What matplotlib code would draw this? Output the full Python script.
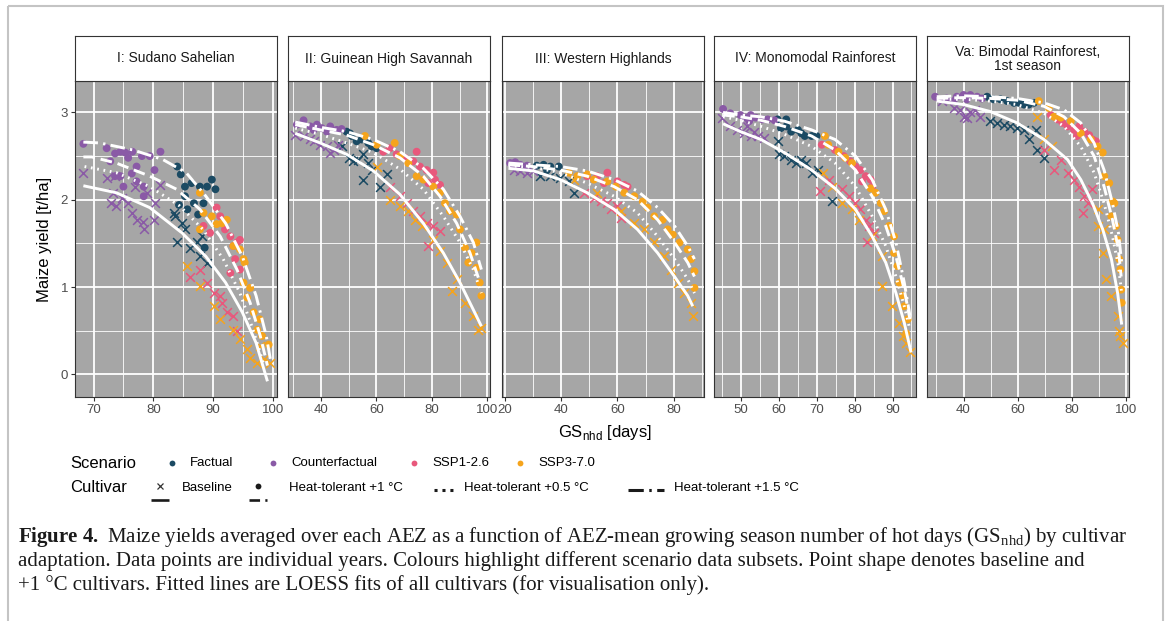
import matplotlib
matplotlib.use("Agg")
import matplotlib.pyplot as plt
from matplotlib.patches import Rectangle

# ---- data (x = GS_nhd [days], y = yield [t/ha]) ----
# panel I: Sudano Sahelian
p1_fact_dot = [(84.0, 2.38), (84.6, 2.29), (85.3, 2.15), (86.4, 2.19), (87.8, 2.15), (89.0, 2.15),
               (89.8, 2.23), (90.4, 2.12), (88.4, 1.96), (86.8, 1.96), (84.3, 1.94), (85.7, 1.89),
               (87.5, 1.83), (85.3, 2.04), (88.6, 1.45)]
p1_fact_x = [(83.7, 1.81), (84.0, 1.51), (84.8, 1.73), (85.3, 1.66), (86.2, 1.45), (87.3, 1.51),
             (87.8, 1.35), (89.0, 1.28), (83.4, 1.85), (88.1, 1.58)]
p1_cf_dot = [(68.3, 2.64), (72.2, 2.59), (72.8, 2.44), (73.6, 2.53), (74.5, 2.55), (75.3, 2.54),
             (76.5, 2.55), (75.8, 2.48), (77.2, 2.38), (78.1, 2.50), (79.4, 2.50), (81.2, 2.55),
             (80.2, 2.34), (73.6, 2.27), (74.5, 2.27), (76.4, 2.30), (77.2, 2.21), (78.4, 2.15),
             (78.4, 2.04), (75.0, 2.15)]
p1_cf_x = [(68.3, 2.31), (72.2, 2.25), (73.3, 2.08), (73.0, 1.96), (73.8, 1.93), (74.7, 2.02),
           (75.8, 1.96), (76.4, 1.85), (76.9, 2.15), (77.2, 1.77), (78.2, 1.75), (78.4, 1.66),
           (79.0, 2.08), (80.3, 1.96), (80.2, 1.77), (81.2, 2.17), (73.6, 2.27)]
p1_ssp126_dot = [(88.4, 1.70), (89.5, 1.62), (90.6, 1.91), (91.2, 1.81), (92.0, 1.66), (92.9, 1.58),
                 (93.4, 1.47), (94.0, 1.51), (93.7, 1.32), (94.5, 1.54), (92.9, 1.16), (94.5, 1.20)]
p1_ssp126_x = [(86.2, 1.12), (89.0, 1.05), (90.1, 0.93), (91.2, 0.90), (91.5, 0.82), (92.3, 0.71),
               (93.4, 0.67), (94.0, 0.50), (87.8, 1.20)]
p1_ssp370_dot = [(87.8, 2.08), (88.4, 1.85), (89.8, 1.81), (90.6, 1.72), (91.5, 1.73), (92.3, 1.77),
                 (93.4, 1.47), (94.5, 1.43), (95.1, 1.32), (95.3, 1.28), (95.1, 1.05), (96.2, 0.99),
                 (96.8, 0.71), (97.4, 0.51), (98.2, 0.44), (99.3, 0.34), (87.8, 1.66), (97.8, 0.63),
                 (95.7, 0.88)]
p1_ssp370_x = [(85.7, 1.24), (87.8, 1.01), (90.1, 0.78), (91.2, 0.63), (93.4, 0.51), (94.5, 0.40),
               (95.7, 0.29), (96.2, 0.19), (97.4, 0.13), (98.5, 0.17), (99.6, 0.13), (97.8, 0.32)]
p1_fit_base = [(68.3, 2.16), (73.8, 2.08), (79.4, 1.91), (84.8, 1.62), (88.8, 1.35), (92.1, 1.05),
               (94.9, 0.71), (97.2, 0.36), (99.1, -0.08)]
p1_fit_p10 = [(68.3, 2.49), (69.7, 2.49), (73.8, 2.42), (79.4, 2.27), (83.9, 2.12), (87.8, 1.89),
              (91.2, 1.58), (94.0, 1.20), (96.2, 0.82), (97.9, 0.44), (99.1, 0.10)]
p1_fit_p05 = [(68.5, 2.38), (73.8, 2.31), (79.4, 2.15), (84.4, 1.93), (88.3, 1.66), (91.7, 1.32),
              (94.5, 0.93), (96.7, 0.51), (98.4, 0.13)]
p1_fit_p15 = [(68.3, 2.66), (71.1, 2.65), (76.6, 2.57), (81.6, 2.46), (85.5, 2.31), (88.8, 2.04),
              (92.1, 1.73), (94.9, 1.35), (97.2, 0.90), (98.9, 0.44), (99.7, 0.13)]

# panel II: Guinean High Savannah
p2_fact_dot = [(49.3, 2.78), (51.1, 2.73), (52.9, 2.67), (54.7, 2.69), (57.1, 2.65), (58.3, 2.61),
               (60.1, 2.59), (50.5, 2.76)]
p2_fact_x = [(47.5, 2.61), (50.0, 2.48), (51.7, 2.44), (53.5, 2.46), (55.3, 2.23), (57.1, 2.42),
             (58.3, 2.34), (61.3, 2.15), (63.7, 2.30), (55.3, 2.52)]
p2_cf_dot = [(31.4, 2.86), (33.8, 2.91), (36.2, 2.84), (38.6, 2.86), (40.4, 2.82), (43.4, 2.84),
             (45.7, 2.80), (47.5, 2.81), (42.2, 2.78), (37.4, 2.80)]
p2_cf_x = [(30.8, 2.74), (33.8, 2.73), (37.4, 2.67), (39.8, 2.63), (42.2, 2.61), (44.6, 2.57),
           (46.3, 2.63), (43.4, 2.54), (36.2, 2.69)]
p2_ssp126_dot = [(62.5, 2.55), (64.9, 2.59), (67.3, 2.52), (70.3, 2.48), (73.3, 2.44), (74.5, 2.55),
                 (75.7, 2.38), (78.1, 2.34), (80.5, 2.31), (81.1, 2.23), (82.9, 2.17), (78.7, 2.19)]
p2_ssp126_x = [(64.9, 2.15), (68.5, 2.04), (70.9, 1.96), (73.3, 1.87), (75.7, 1.81), (78.1, 1.73),
               (80.5, 1.70), (78.7, 1.47), (82.9, 1.64)]
p2_ssp370_dot = [(55.9, 2.73), (60.1, 2.63), (66.6, 2.65), (68.5, 2.50), (71.5, 2.42), (74.5, 2.27),
                 (76.9, 2.23), (80.5, 2.15), (82.9, 2.08), (84.7, 1.96), (86.5, 1.87), (88.9, 1.83),
                 (90.1, 1.66), (91.9, 1.45), (94.3, 1.39), (96.0, 1.22), (97.2, 1.05), (97.8, 0.90),
                 (96.0, 1.51), (93.1, 1.28)]
p2_ssp370_x = [(60.1, 2.38), (64.9, 2.00), (68.5, 1.93), (71.5, 1.87), (73.9, 1.77), (76.3, 1.70),
               (80.5, 1.54), (82.9, 1.41), (87.1, 0.95), (88.9, 1.09), (91.9, 0.82), (94.9, 0.67),
               (96.6, 0.51), (97.8, 0.53), (85.3, 1.28)]
p2_fit_base = [(30.8, 2.76), (39.8, 2.65), (49.3, 2.52), (58.9, 2.33), (68.5, 2.06), (76.9, 1.73),
               (84.1, 1.39), (90.1, 1.05), (94.9, 0.74), (97.8, 0.55)]
p2_fit_p10 = [(30.8, 2.86), (39.8, 2.80), (49.3, 2.74), (58.9, 2.63), (68.5, 2.48), (76.9, 2.27),
              (82.9, 2.04), (88.9, 1.73), (93.7, 1.39), (97.3, 1.05)]
p2_fit_p05 = [(30.8, 2.82), (39.8, 2.75), (49.3, 2.65), (58.9, 2.54), (68.5, 2.35), (76.9, 2.12),
              (84.1, 1.81), (90.1, 1.51), (94.9, 1.20), (97.8, 0.93)]
p2_fit_p15 = [(30.8, 2.89), (39.8, 2.83), (49.3, 2.78), (58.9, 2.69), (68.5, 2.55), (76.9, 2.36),
              (84.1, 2.12), (90.1, 1.81), (94.9, 1.51), (97.8, 1.20)]

# panel III: Western Highlands
p3_fact_dot = [(31.3, 2.39), (33.7, 2.40), (36.1, 2.38), (39.1, 2.38), (34.9, 2.34)]
p3_fact_x = [(32.5, 2.27), (36.1, 2.27), (39.7, 2.25), (44.5, 2.08), (42.7, 2.21)]
p3_cf_dot = [(21.8, 2.42), (23.6, 2.43), (25.4, 2.40), (27.8, 2.39), (23.0, 2.38)]
p3_cf_x = [(23.0, 2.34), (25.4, 2.33), (27.8, 2.31), (30.1, 2.33), (26.6, 2.36)]
p3_ssp126_dot = [(49.2, 2.27), (52.8, 2.27), (56.4, 2.31), (60.0, 2.21), (62.4, 2.17), (63.6, 2.15),
                 (55.2, 2.19)]
p3_ssp126_x = [(48.0, 2.08), (51.6, 2.02), (54.0, 1.98), (56.4, 1.96), (60.0, 1.93), (61.2, 1.79),
               (57.6, 1.89)]
p3_ssp370_dot = [(42.7, 2.31), (45.7, 2.27), (49.2, 2.29), (51.6, 2.23), (56.4, 2.21), (59.4, 2.15),
                 (62.4, 2.08), (66.0, 2.04), (69.0, 1.98), (70.7, 1.91), (73.1, 1.81), (76.1, 1.77),
                 (77.9, 1.66), (79.7, 1.60), (82.1, 1.51), (85.0, 1.43), (86.2, 1.32), (87.4, 1.18),
                 (87.4, 0.99)]
p3_ssp370_x = [(44.5, 2.23), (52.8, 2.08), (61.2, 1.87), (66.0, 1.73), (69.5, 1.66), (73.1, 1.51),
               (76.7, 1.35), (79.1, 1.20), (81.5, 1.05), (83.8, 0.93), (86.2, 0.82), (86.8, 0.67)]
p3_fit_base = [(21.2, 2.36), (30.1, 2.33), (39.7, 2.23), (49.2, 2.08), (58.8, 1.89), (67.1, 1.66),
               (74.3, 1.39), (80.3, 1.12), (85.0, 0.90), (86.8, 0.78)]
p3_fit_p10 = [(21.2, 2.40), (30.1, 2.38), (39.7, 2.34), (49.2, 2.27), (58.8, 2.15), (67.1, 2.00),
              (74.3, 1.77), (80.3, 1.51), (85.0, 1.28), (87.4, 1.12)]
p3_fit_p05 = [(21.2, 2.39), (30.1, 2.37), (39.7, 2.31), (49.2, 2.19), (58.8, 2.04), (67.1, 1.85),
              (74.3, 1.58), (80.3, 1.32), (85.0, 1.09), (87.4, 0.93)]
p3_fit_p15 = [(21.2, 2.42), (30.1, 2.40), (39.7, 2.38), (49.2, 2.33), (58.8, 2.23), (67.1, 2.10),
              (74.3, 1.91), (80.3, 1.70), (85.0, 1.47), (87.4, 1.32)]

# panel IV: Monomodal Rainforest
p4_fact_dot = [(59.6, 2.92), (60.5, 2.82), (61.9, 2.84), (63.2, 2.78), (65.0, 2.80), (65.9, 2.76),
               (66.8, 2.73), (68.6, 2.73), (69.9, 2.73), (61.9, 2.92)]
p4_fact_x = [(59.6, 2.67), (60.1, 2.52), (61.4, 2.50), (63.2, 2.46), (64.6, 2.42), (65.9, 2.46),
             (67.2, 2.42), (68.6, 2.31), (70.4, 2.34), (74.0, 1.98)]
p4_cf_dot = [(45.2, 3.04), (47.1, 2.99), (49.8, 2.97), (51.2, 2.94), (52.5, 2.97), (53.8, 2.94),
             (55.6, 2.92), (57.0, 2.92), (58.8, 2.91), (52.1, 2.90)]
p4_cf_x = [(44.9, 2.94), (47.1, 2.84), (48.9, 2.80), (50.7, 2.76), (52.5, 2.73), (54.3, 2.73),
           (56.1, 2.71), (53.4, 2.78), (51.6, 2.84)]
p4_ssp126_dot = [(71.3, 2.63), (74.8, 2.57), (77.1, 2.50), (78.8, 2.44), (80.2, 2.38), (81.5, 2.34),
                 (82.9, 2.27), (84.2, 2.23), (84.6, 2.15), (81.9, 2.21)]
p4_ssp126_x = [(70.8, 2.10), (73.1, 2.23), (76.6, 2.12), (78.4, 2.04), (80.2, 1.96), (81.5, 1.89),
               (82.9, 1.77), (83.8, 1.70), (83.3, 1.51), (85.1, 1.62)]
p4_ssp370_dot = [(72.1, 2.73), (73.0, 2.63), (75.7, 2.55), (77.5, 2.48), (79.3, 2.42), (84.2, 2.13),
                 (85.5, 2.08), (86.9, 1.96), (87.8, 1.87), (89.1, 1.70), (90.4, 1.58), (90.4, 1.39),
                 (91.3, 1.24), (91.8, 1.05), (92.7, 0.90), (93.1, 0.78), (94.0, 0.63), (93.6, 0.47)]
p4_ssp370_x = [(71.7, 2.31), (74.0, 2.15), (76.6, 1.96), (79.3, 1.89), (81.1, 1.77), (84.6, 1.58),
               (87.3, 1.35), (87.3, 1.01), (89.9, 0.78), (91.8, 0.59), (93.6, 0.36), (94.5, 0.25),
               (92.7, 0.44)]
p4_fit_base = [(45.2, 2.87), (49.8, 2.78), (55.2, 2.69), (61.4, 2.54), (68.6, 2.34), (74.8, 2.13),
               (80.2, 1.89), (84.6, 1.58), (88.2, 1.28), (90.9, 0.93), (93.1, 0.59), (94.9, 0.25)]
p4_fit_p10 = [(45.2, 2.97), (49.8, 2.95), (55.2, 2.91), (61.4, 2.84), (68.6, 2.73), (74.8, 2.57),
              (80.2, 2.34), (84.6, 2.04), (88.2, 1.70), (90.9, 1.35), (93.1, 0.97), (94.6, 0.63)]
p4_fit_p05 = [(45.2, 2.95), (49.8, 2.91), (55.2, 2.84), (61.4, 2.75), (68.6, 2.61), (74.8, 2.42),
              (80.2, 2.15), (84.6, 1.81), (88.2, 1.47), (90.9, 1.12), (93.1, 0.78), (94.6, 0.51)]
p4_fit_p15 = [(45.2, 3.00), (49.8, 2.97), (55.2, 2.95), (61.4, 2.90), (68.6, 2.80), (74.8, 2.69),
              (80.2, 2.50), (84.6, 2.23), (88.2, 1.89), (90.9, 1.51), (93.1, 1.05), (94.6, 0.67)]

# panel Va: Bimodal Rainforest, 1st season
p5_fact_dot = [(48.7, 3.18), (51.1, 3.15), (53.6, 3.15), (56.1, 3.13), (58.6, 3.11), (60.4, 3.11),
               (62.3, 3.09), (64.1, 3.09), (66.0, 3.11)]
p5_fact_x = [(49.9, 2.90), (52.4, 2.88), (54.9, 2.86), (57.3, 2.84), (59.8, 2.82), (62.3, 2.80),
             (64.1, 2.69), (66.6, 2.80), (69.7, 2.48), (67.2, 2.57)]
p5_cf_dot = [(29.5, 3.18), (31.3, 3.15), (33.8, 3.16), (37.5, 3.18), (40.0, 3.20), (42.5, 3.20),
             (45.0, 3.18), (46.8, 3.16), (36.3, 3.13), (41.2, 3.15)]
p5_cf_x = [(32.0, 3.13), (36.3, 3.05), (38.8, 3.03), (40.0, 2.95), (42.5, 3.01), (46.2, 2.95),
           (44.3, 3.03), (41.2, 2.94)]
p5_ssp126_dot = [(72.2, 2.97), (74.7, 2.92), (76.5, 2.88), (78.4, 2.84), (80.8, 2.80), (82.7, 2.84),
                 (84.6, 2.78), (86.4, 2.74), (87.6, 2.69), (88.9, 2.67), (81.9, 2.73)]
p5_ssp126_x = [(69.7, 2.57), (73.4, 2.34), (75.9, 2.46), (78.4, 2.31), (80.8, 2.23), (82.7, 2.15),
               (84.6, 2.04), (85.8, 1.96), (84.0, 1.85), (87.6, 2.12)]
p5_ssp370_dot = [(67.8, 3.13), (71.5, 3.05), (73.4, 2.95), (75.9, 2.94), (79.6, 2.90), (83.3, 2.76),
                 (87.0, 2.69), (89.5, 2.61), (91.4, 2.54), (92.0, 2.27), (93.8, 2.19), (95.1, 1.98),
                 (94.6, 1.81), (96.3, 1.70), (96.9, 1.54), (97.5, 1.32), (97.9, 1.20), (98.2, 0.97),
                 (98.4, 0.82), (95.7, 1.96)]
p5_ssp370_x = [(67.2, 2.95), (69.7, 2.69), (72.8, 2.61), (89.5, 1.89), (92.0, 1.66), (91.4, 1.39),
               (92.6, 1.09), (94.6, 0.90), (96.9, 0.67), (97.9, 0.44), (98.8, 0.36), (97.5, 0.50),
               (89.5, 1.70)]
p5_fit_base = [(30.1, 3.13), (40.0, 3.09), (49.9, 3.01), (59.8, 2.88), (69.7, 2.69), (78.4, 2.46),
               (83.3, 2.23), (87.6, 1.96), (91.4, 1.66), (94.6, 1.32), (96.9, 0.93), (98.4, 0.57)]
p5_fit_p10 = [(30.1, 3.16), (40.0, 3.17), (49.9, 3.16), (59.8, 3.14), (69.7, 3.07), (77.1, 2.95),
              (83.3, 2.76), (88.2, 2.50), (91.9, 2.15), (95.0, 1.77), (97.2, 1.43), (98.2, 1.12)]
p5_fit_p05 = [(30.1, 3.15), (40.0, 3.15), (49.9, 3.13), (59.8, 3.09), (69.7, 2.99), (77.1, 2.84),
              (83.3, 2.61), (88.2, 2.31), (91.9, 1.96), (95.0, 1.58), (97.2, 1.24), (98.4, 0.93)]
p5_fit_p15 = [(30.1, 3.18), (40.0, 3.19), (49.9, 3.18), (59.8, 3.16), (69.7, 3.11), (77.1, 3.03),
              (83.3, 2.88), (88.2, 2.65), (91.9, 2.34), (95.0, 1.96), (97.2, 1.62), (98.4, 1.28)]

panel_titles = ["I: Sudano Sahelian", "II: Guinean High Savannah", "III: Western Highlands",
                "IV: Monomodal Rainforest", "Va: Bimodal Rainforest,\n1st season"]
panel_xlims = [(66.9, 100.7), (28.2, 100.9), (18.9, 90.8), (42.8, 96.2), (26.5, 101.1)]
panel_xticks = [[70, 80, 90, 100], [40, 60, 80, 100], [20, 40, 60, 80],
                [50, 60, 70, 80, 90], [40, 60, 80, 100]]
y_ticks = [0, 1, 2, 3]

scenarios = ["Factual", "Counterfactual", "SSP1-2.6", "SSP3-7.0"]
scen_colors = ["#1b4a63", "#8a5aa6", "#e8587c", "#f5a41c"]
cultivars = ["Baseline", "Heat-tolerant +1 °C", "Heat-tolerant +0.5 °C", "Heat-tolerant +1.5 °C"]

points = [
    [(p1_fact_x, p1_fact_dot), (p1_cf_x, p1_cf_dot), (p1_ssp126_x, p1_ssp126_dot), (p1_ssp370_x, p1_ssp370_dot)],
    [(p2_fact_x, p2_fact_dot), (p2_cf_x, p2_cf_dot), (p2_ssp126_x, p2_ssp126_dot), (p2_ssp370_x, p2_ssp370_dot)],
    [(p3_fact_x, p3_fact_dot), (p3_cf_x, p3_cf_dot), (p3_ssp126_x, p3_ssp126_dot), (p3_ssp370_x, p3_ssp370_dot)],
    [(p4_fact_x, p4_fact_dot), (p4_cf_x, p4_cf_dot), (p4_ssp126_x, p4_ssp126_dot), (p4_ssp370_x, p4_ssp370_dot)],
    [(p5_fact_x, p5_fact_dot), (p5_cf_x, p5_cf_dot), (p5_ssp126_x, p5_ssp126_dot), (p5_ssp370_x, p5_ssp370_dot)],
]
fits = [
    [p1_fit_base, p1_fit_p10, p1_fit_p05, p1_fit_p15],
    [p2_fit_base, p2_fit_p10, p2_fit_p05, p2_fit_p15],
    [p3_fit_base, p3_fit_p10, p3_fit_p05, p3_fit_p15],
    [p4_fit_base, p4_fit_p10, p4_fit_p05, p4_fit_p15],
    [p5_fit_base, p5_fit_p10, p5_fit_p05, p5_fit_p15],
]

# ---- style ----
plt.rcParams["font.family"] = ["Liberation Sans", "DejaVu Sans"]
plt.rcParams["mathtext.fontset"] = "custom"
plt.rcParams["mathtext.rm"] = "Liberation Serif"
plt.rcParams["mathtext.bf"] = "Liberation Serif:bold"
plt.rcParams["mathtext.sf"] = "Liberation Sans"

W, H = 1170, 621
fig = plt.figure(figsize=(W / 100, H / 100), dpi=100)
fig.patch.set_facecolor("white")

line_styles = ["-", (0, (4, 2)), (0, (0.6, 1.6)), (0, (5, 1.8, 0.8, 1.8))]
panel_bg = "#a6a6a6"
edge_col = "#333333"
tick_col = "#4d4d4d"


def px_axes(left, top, width, height):
    return fig.add_axes([left / W, 1 - (top + height) / H, width / W, height / H])


# overlay in pixel coords for frame, legend and caption
ov = px_axes(0, 0, W, H)
ov.set_xlim(0, W)
ov.set_ylim(H, 0)
ov.axis("off")
ov.add_patch(Rectangle((8, 6), 1155, 640, fill=False, edgecolor="#c4c4c4", lw=1.5))

lefts = [75, 288, 502, 714, 927]
pw, top, ph = 202, 81, 316
strip_top, strip_h = 36, 45

for i in range(5):
    ax = px_axes(lefts[i], top, pw, ph)
    ax.set_facecolor(panel_bg)
    ax.set_xlim(*panel_xlims[i])
    ax.set_ylim(-0.26, 3.36)
    ax.set_xticks(panel_xticks[i])
    step = panel_xticks[i][1] - panel_xticks[i][0]
    minors = [t + step / 2 for t in panel_xticks[i]] + [panel_xticks[i][0] - step / 2]
    ax.set_xticks([m for m in minors if panel_xlims[i][0] < m < panel_xlims[i][1]], minor=True)
    ax.set_yticks(y_ticks)
    ax.set_yticks([0.5, 1.5, 2.5], minor=True)
    ax.grid(True, which="major", color="white", lw=1.3)
    ax.grid(True, which="minor", color="white", lw=0.6)
    ax.set_axisbelow(True)
    for s in ax.spines.values():
        s.set_color(edge_col)
        s.set_linewidth(0.8)
    ax.tick_params(which="major", length=3, color=edge_col, labelsize=9.5, labelcolor=tick_col, pad=2)
    ax.tick_params(which="minor", length=0)
    if i > 0:
        ax.tick_params(axis="y", length=0, labelleft=False)

    for (xs, dots), col in zip(points[i], scen_colors):
        ax.scatter([p[0] for p in xs], [p[1] for p in xs], marker="x", s=40, color=col,
                   linewidths=1.1, zorder=3)
    for (xs, dots), col in zip(points[i], scen_colors):
        ax.scatter([p[0] for p in dots], [p[1] for p in dots], marker="o", s=32, color=col,
                   edgecolors="none", zorder=4)
    for fit, ls in zip(fits[i], line_styles):
        ax.plot([p[0] for p in fit], [p[1] for p in fit], color="white", lw=2.1, ls=ls,
                zorder=5, solid_capstyle="butt", dash_capstyle="butt")

    st = px_axes(lefts[i], strip_top, pw, strip_h)
    st.set_xticks([])
    st.set_yticks([])
    st.set_facecolor("white")
    for s in st.spines.values():
        s.set_color(edge_col)
        s.set_linewidth(0.8)
    st.text(0.5, 0.5, panel_titles[i], ha="center", va="center", fontsize=10,
            color="#1a1a1a", linespacing=1.0, transform=st.transAxes)

# axis titles
ov.text(45, 239, "Maize yield [t/ha]", rotation=90, ha="center", va="center", fontsize=12)
ov.text(605, 433, r"GS$_{\mathsf{nhd}}$ [days]", ha="center", va="center", fontsize=12)

# legend
ov.text(70, 463, "Scenario", ha="left", va="center", fontsize=12)
scen_x = [172, 273, 414, 520]
for sx, name, col in zip(scen_x, scenarios, scen_colors):
    ov.plot(sx, 463, "o", color=col, ms=4.2, mec="none")
    ov.text(sx + 18, 463, name, ha="left", va="center", fontsize=9.5)

ov.text(70, 488, "Cultivar", ha="left", va="center", fontsize=12)
ov.plot(160, 486, "x", color="#333333", ms=4.5, mew=0.9)
ov.plot([151, 169], [500, 500], color="#1a1a1a", lw=1.9, ls="-", solid_capstyle="butt")
ov.text(182, 488, cultivars[0], ha="left", va="center", fontsize=9.5)
ov.plot(258, 486, "o", color="#1a1a1a", ms=4.2, mec="none")
ov.plot([249, 267], [500, 500], color="#1a1a1a", lw=1.9, ls=(0, (4, 2)), dash_capstyle="butt")
ov.text(289, 488, cultivars[1], ha="left", va="center", fontsize=9.5)
ov.plot([434, 456], [490, 490], color="#1a1a1a", lw=2.2, ls=(0, (1, 1.6)), dash_capstyle="butt")
ov.text(464, 488, cultivars[2], ha="left", va="center", fontsize=9.5)
ov.plot([628, 664], [490, 490], color="#1a1a1a", lw=2.2, ls=(0, (5, 1.8, 0.8, 1.8)),
        dash_capstyle="butt")
ov.text(674, 488, cultivars[3], ha="left", va="center", fontsize=9.5)

# caption
cap = [r"$\mathbf{Figure}$ $\mathbf{4.}$ Maize yields averaged over each AEZ as a function of AEZ-mean growing "
       r"season number of hot days (GS$_{\mathrm{nhd}}$) by cultivar",
       "adaptation. Data points are individual years. Colours highlight different scenario data "
       "subsets. Point shape denotes baseline and",
       "+1 °C cultivars. Fitted lines are LOESS fits of all cultivars (for visualisation only)."]
for k, line in enumerate(cap):
    ov.text(18, 537 + 24 * k, line, ha="left", va="center", fontsize=15,
            family="Liberation Serif", color="#1a1a1a")

fig.savefig("out.png", dpi=100)
